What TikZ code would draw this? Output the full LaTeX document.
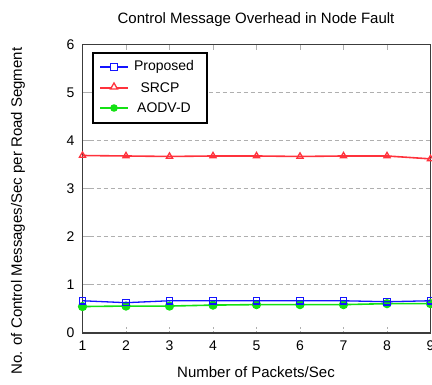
\documentclass[tikz,border=0pt]{standalone}
\usepackage{fontspec}
\setmainfont{Liberation Sans}
\usetikzlibrary{plotmarks,shapes.geometric}
\definecolor{pblue}{RGB}{20,20,255}
\definecolor{pred}{RGB}{255,50,60}
\definecolor{pgreen}{RGB}{20,225,20}
\definecolor{axisgray}{RGB}{60,60,60}
\definecolor{gridgray}{RGB}{175,175,175}
\tikzset{
  lbl/.style={font=\fontsize{15}{17}\selectfont, inner sep=0pt},
  ticklbl/.style={font=\fontsize{14}{16}\selectfont, inner sep=0pt},
  legtxt/.style={font=\fontsize{14}{16}\selectfont, inner sep=0pt},
  gridline/.style={gridgray, dash pattern=on 4pt off 3pt, line width=0.8pt},
  tickline/.style={gridgray, line width=0.8pt},
  serieprop/.style={pblue, line width=1.3pt, mark=square, mark size=3.2pt, mark options={solid, line width=1.2pt, fill=white}},
  seriesrcp/.style={pred, line width=1.6pt, mark=triangle, mark size=3.6pt, mark options={solid, line width=1.3pt, fill=white}},
  serieaodv/.style={pgreen, line width=1.6pt, mark=*, mark size=3.8pt, mark options={solid, fill=pgreen}},
}
\begin{document}
\begin{tikzpicture}[x=1pt,y=1pt]
\useasboundingbox (0,0) rectangle (432,385);
\node[lbl] (title) at (256,365) {Control Message Overhead in Node Fault};
\node[lbl] (xlabel) at (256,13) {Number of Packets/Sec};
\node[lbl, rotate=90] (ylabel) at (18,174) {No. of Control Messages/Sec per Road Segment};
\begin{scope}[shift={(39pt,52pt)}, x=43.5pt, y=48.1pt]
  % grid
  \foreach \v in {1,...,5}{
    \draw[gridline] (1,\v) -- (9,\v);
    \draw[tickline] (1,\v) -- ++(7pt,0);
  }
  \foreach \u in {2,...,8}{
    \draw[tickline] (\u,6) -- ++(0,-6pt);
    \draw[tickline, dash pattern=on 2pt off 2pt] (\u,0) -- ++(0,7pt);
  }
  % frame
  \draw[axisgray, line width=1.4pt] (1,0) rectangle (9,6);
  % tick labels
  \foreach \v in {0,...,6}{
    \node[ticklbl, anchor=east] (yt\v) at ([xshift=-8pt]1,\v) {\v};
  }
  \foreach \u in {1,...,9}{
    \node[ticklbl] (xt\u) at ([yshift=-13pt]\u,0) {\u};
  }
  % data
  \draw[seriesrcp] plot coordinates {(1,3.69) (2,3.68) (3,3.67) (4,3.68) (5,3.68) (6,3.67) (7,3.68) (8,3.68) (9,3.62)};
  \draw[serieaodv] plot coordinates {(1,0.55) (2,0.56) (3,0.56) (4,0.58) (5,0.59) (6,0.59) (7,0.59) (8,0.61) (9,0.61)};
  \draw[serieprop] plot coordinates {(1,0.67) (2,0.63) (3,0.67) (4,0.67) (5,0.67) (6,0.67) (7,0.67) (8,0.65) (9,0.67)};
\end{scope}
% legend
\node[draw=black, line width=1.2pt, fill=white, minimum width=114pt, minimum height=70pt, inner sep=0pt] (legend) at (150,297) {};
\coordinate (l1a) at (100,318); \coordinate (l1b) at (128,318);
\coordinate (l2a) at (100,297); \coordinate (l2b) at (128,297);
\coordinate (l3a) at (100,277); \coordinate (l3b) at (128,277);
\draw[pblue, line width=1.3pt] (l1a) -- (l1b);
\node[pblue, draw, line width=1.2pt, fill=white, minimum size=6.4pt, inner sep=0pt] (m1) at (114,318) {};
\draw[pred, line width=1.6pt] (l2a) -- (l2b);
\node[pred, draw, line width=1.3pt, fill=white, regular polygon, regular polygon sides=3, minimum size=8pt, inner sep=0pt] (m2) at (114,298) {};
\draw[pgreen, line width=1.6pt] (l3a) -- (l3b);
\node[circle, fill=pgreen, minimum size=7.6pt, inner sep=0pt] (m3) at (114,277) {};
\node[legtxt] (t1) at (164,318) {Proposed};
\node[legtxt] (t2) at (160,297) {SRCP};
\node[legtxt] (t3) at (164,277) {AODV-D};
\end{tikzpicture}
\end{document}
